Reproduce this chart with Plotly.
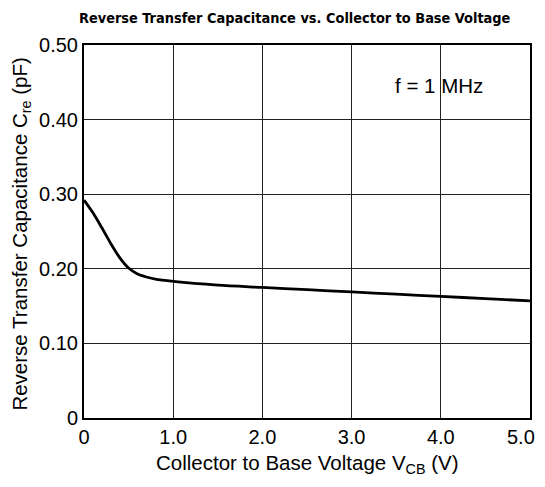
import plotly.graph_objects as go

# Data
vcb = [0, 0.1, 0.2, 0.3, 0.4, 0.5, 0.6, 0.7, 0.8, 1.0, 1.5, 2.0, 2.5, 3.0, 3.5, 4.0, 4.5, 5.0]
cre = [0.292, 0.275, 0.255, 0.234, 0.215, 0.201, 0.193, 0.189, 0.186, 0.183, 0.178, 0.175, 0.172, 0.169, 0.166, 0.163, 0.160, 0.157]

x_ticks = [0, 1, 2, 3, 4, 5]
x_labels = ["0", "1.0", "2.0", "3.0", "4.0", "5.0"]
y_ticks = [0, 0.1, 0.2, 0.3, 0.4, 0.5]
y_labels = ["0", "0.10", "0.20", "0.30", "0.40", "0.50"]

font_main = "Liberation Sans, Arial, sans-serif"

fig = go.Figure()
fig.add_trace(go.Scatter(x=vcb, y=cre, mode="lines",
                         line=dict(color="black", width=2.8, shape="spline", smoothing=0.8),
                         showlegend=False, hoverinfo="skip"))

# last x tick label is drawn as an annotation, nudged left so it is not clipped at the window edge
shown_x_labels = x_labels[:-1] + [""]

# page body adds an 8px offset; figure sized so the plot lands at x 84-530, y 45-418
fig.update_layout(
    width=537, height=471,
    margin=dict(l=76, r=15, t=37, b=61),
    paper_bgcolor="white", plot_bgcolor="white",
    font=dict(family=font_main, color="black", size=20),
    xaxis=dict(range=[0, 5], tickvals=x_ticks, ticktext=shown_x_labels,
               showgrid=True, gridcolor="#222", gridwidth=1,
               showline=True, linecolor="black", linewidth=2, mirror=True,
               ticks="", tickfont=dict(size=20), zeroline=False, automargin=False),
    yaxis=dict(range=[0, 0.5], tickvals=y_ticks, ticktext=y_labels,
               showgrid=True, gridcolor="#222", gridwidth=1,
               showline=True, linecolor="black", linewidth=2, mirror=True,
               ticks="", tickfont=dict(size=20), zeroline=False, automargin=False),
    annotations=[
        dict(x=x_ticks[-1], y=-0.051, xref="x", yref="paper", xanchor="right", yanchor="middle",
             xshift=7, text=x_labels[-1], showarrow=False, font=dict(size=20, color="black")),
        dict(x=3.98, y=0.446, xref="x", yref="y", text="f = 1 MHz", showarrow=False,
             font=dict(size=20.5, color="black")),
        dict(x=0.472, y=1.072, xref="paper", yref="paper", xanchor="center", yanchor="middle",
             text="<b>Reverse Transfer Capacitance vs. Collector to Base Voltage</b>", showarrow=False,
             font=dict(family="DejaVu Sans Condensed, Liberation Sans, sans-serif", size=14.4, color="black")),
        dict(x=0.5, y=-0.163, xref="paper", yref="paper", xanchor="center", yanchor="bottom",
             text="Collector to Base Voltage V<sub>CB</sub> (V)", showarrow=False,
             font=dict(size=20.5, color="black")),
        dict(x=-0.141, y=0.492, xref="paper", yref="paper", xanchor="center", yanchor="middle",
             textangle=-90, text="Reverse Transfer Capacitance C<sub>re</sub> (pF)", showarrow=False,
             font=dict(size=20.5, color="black")),
    ],
)

fig.write_html("out.html")
